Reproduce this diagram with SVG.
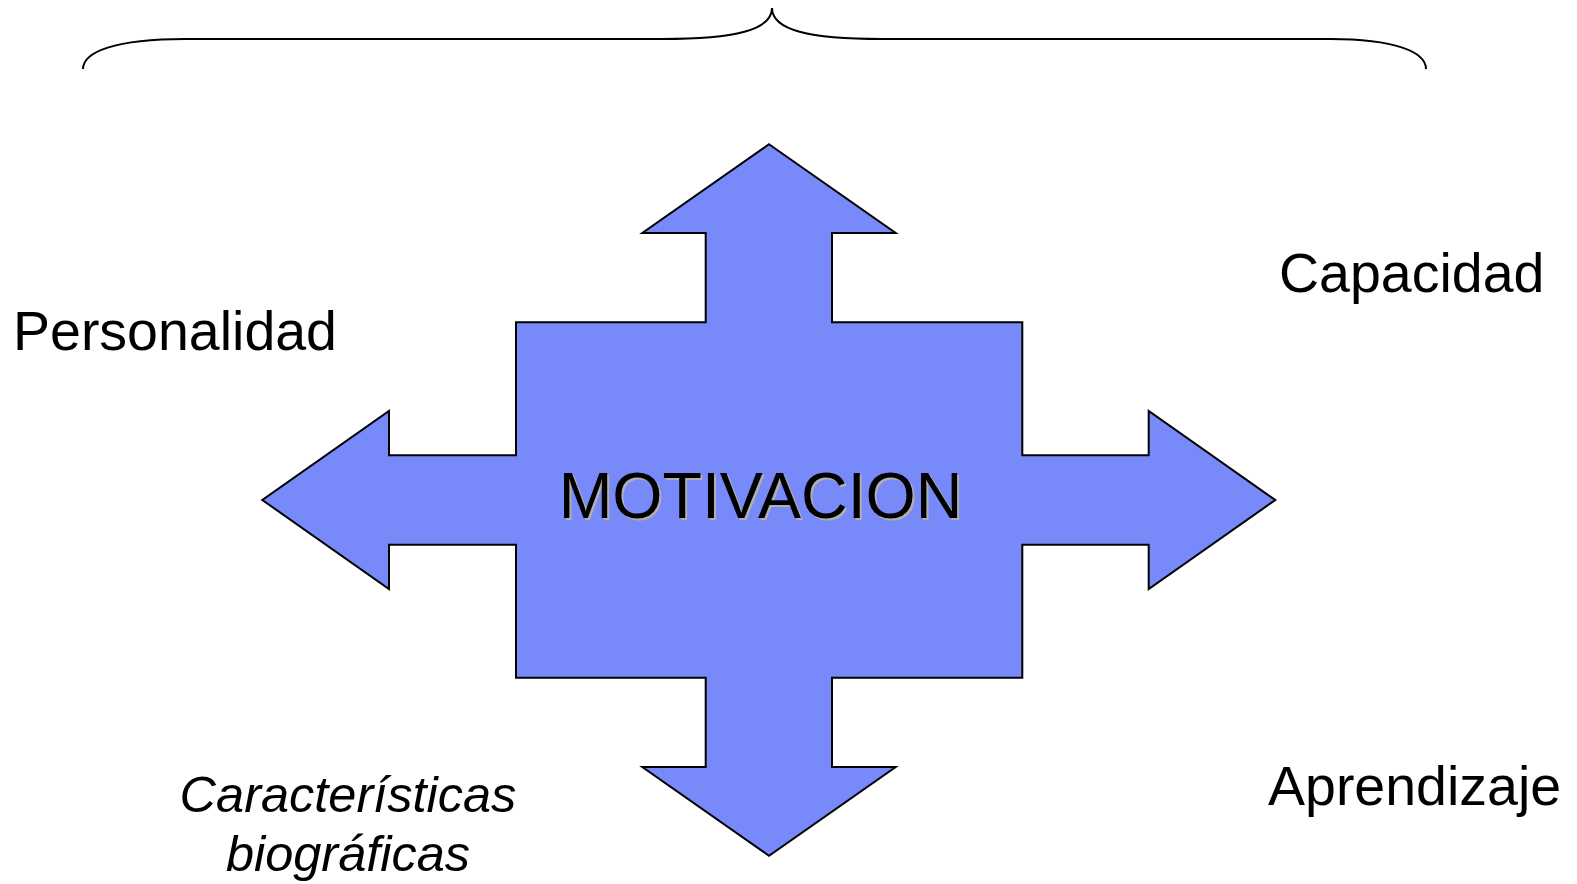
<svg xmlns="http://www.w3.org/2000/svg" width="1577" height="884" viewBox="0 0 1577 884">
<style>
.lbl{font-family:"Liberation Sans",Arial,sans-serif;font-size:55.5px;fill:#000}
.it{font-family:"Liberation Sans",Arial,sans-serif;font-size:50.5px;font-style:italic;fill:#000}
.mot{font-family:"Liberation Sans",Arial,sans-serif;font-size:64.5px;text-anchor:middle}
</style>
<rect width="1577" height="884" fill="#fff"/>
<g id="connectors">
<path id="brace" d="M83,69 C83,52 115,39 185,39 L662,39 C735,39 772,30 772,8 C772,30 809,39 882,39 L1330,39 C1395,39 1426,52 1426,69" fill="none" stroke="#000" stroke-width="2"/>
</g>
<g id="motivacion">
<polygon points="769,144.3 895.7,233 832,233 832,322.3 1022.3,322.3 1022.3,455.3 1148.7,455.3 1148.7,411 1275.3,500 1148.7,589 1148.7,544.7 1022.3,544.7 1022.3,677.7 832,677.7 832,767 895.7,767 769,855.7 642.3,767 705.7,767 705.7,677.7 516,677.7 516,544.7 389,544.7 389,589 262.3,500 389,411 389,455.3 516,455.3 516,322.3 705.7,322.3 705.7,233 642.3,233" fill="#7889FA" stroke="#000" stroke-width="2" stroke-linejoin="miter"/>
<text class="mot" x="762.5" y="520" fill="#b0b0b0">MOTIVACION</text>
<text class="mot" x="760.5" y="518" fill="#000">MOTIVACION</text>
</g>
<g id="personalidad"><text class="lbl" x="13" y="350">Personalidad</text></g>
<g id="capacidad"><text class="lbl" x="1279" y="292">Capacidad</text></g>
<g id="aprendizaje"><text class="lbl" x="1268" y="805">Aprendizaje</text></g>
<g id="caracteristicas">
<text class="it" x="348" y="812" text-anchor="middle">Características</text>
<text class="it" x="348" y="871" text-anchor="middle">biográficas</text>
</g>
</svg>
